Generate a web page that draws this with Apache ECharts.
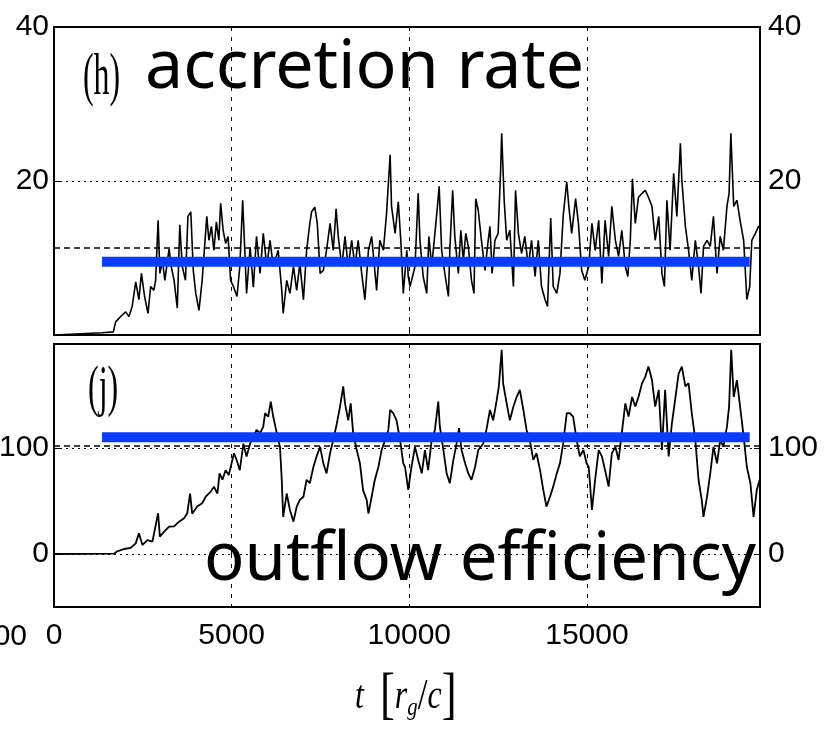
<!DOCTYPE html>
<html><head><meta charset="utf-8">
<script src="https://cdn.jsdelivr.net/npm/echarts@6/dist/echarts.min.js"></script>
<style>html,body{margin:0;padding:0;background:#fff}#c{width:829px;height:733px}</style>
</head><body><div id="c"></div>
<script>
// time [r_g/c], accretion rate
const accretionRate = [[0,0],[1360,0.3],[1670,0.4],[1735,1.7],[1875,2.4],[2017,3.0],[2110,2.4],[2200,3.7],[2300,6.9],[2390,4.6],[2460,8.0],[2550,5.0],[2645,2.8],[2720,6.3],[2810,5.8],[2860,7.1],[2930,14.9],[2980,8.0],[3050,9.7],[3120,7.1],[3240,11.2],[3300,8.9],[3380,7.1],[3470,3.5],[3540,14.3],[3610,8.9],[3700,7.1],[3770,15.4],[3850,16.0],[3920,8.4],[3990,5.4],[4080,3.2],[4170,7.1],[4300,15.4],[4360,12.3],[4430,14.1],[4500,11.0],[4570,14.7],[4640,12.3],[4690,17.1],[4760,13.6],[4830,11.9],[4900,12.8],[4970,7.1],[5050,6.3],[5150,5.0],[5230,8.9],[5310,17.5],[5420,5.4],[5520,11.4],[5610,6.2],[5700,12.8],[5800,8.0],[5890,13.2],[5990,8.9],[6080,12.3],[6170,8.9],[6310,11.0],[6410,5.8],[6450,2.8],[6550,7.1],[6640,5.4],[6740,8.9],[6830,5.8],[6920,9.3],[7020,4.6],[7110,11.0],[7200,14.5],[7250,16.0],[7340,16.6],[7410,14.5],[7490,8.0],[7580,8.4],[7670,11.0],[7770,14.5],[7860,11.0],[7940,16.4],[8000,12.8],[8100,8.9],[8190,12.8],[8280,8.9],[8380,12.3],[8470,8.9],[8560,12.3],[8660,8.0],[8750,4.6],[8850,11.0],[8940,12.8],[9080,5.8],[9170,12.3],[9270,11.0],[9360,15.8],[9460,23.4],[9500,16.7],[9600,13.2],[9690,17.3],[9760,12.3],[9830,5.4],[9930,11.0],[9970,7.6],[10020,6.3],[10160,8.9],[10250,18.4],[10300,12.3],[10390,7.6],[10490,5.4],[10550,12.8],[10630,8.9],[10720,13.2],[10790,16.6],[10840,19.3],[10910,11.0],[11000,8.0],[11100,5.0],[11140,11.0],[11220,18.8],[11280,12.8],[11380,8.0],[11450,13.6],[11520,9.7],[11590,13.2],[11660,11.5],[11750,7.1],[11820,5.4],[11870,17.7],[11940,16.2],[12030,12.3],[12130,8.4],[12220,12.3],[12270,14.1],[12330,8.0],[12410,12.3],[12500,13.2],[12570,21.4],[12600,26.2],[12670,17.5],[12740,12.3],[12830,13.6],[12930,6.3],[12990,18.8],[13070,13.2],[13160,10.6],[13250,12.8],[13350,8.9],[13440,12.3],[13540,7.6],[13630,12.3],[13720,6.3],[13820,4.6],[13890,3.7],[13980,15.2],[14050,6.3],[14150,5.4],[14240,8.0],[14330,15.4],[14430,19.9],[14490,16.7],[14570,13.2],[14680,17.7],[14760,14.5],[14850,8.4],[14940,7.1],[15050,8.9],[15140,14.5],[15230,11.0],[15330,14.9],[15420,6.7],[15510,14.9],[15610,10.2],[15700,16.7],[15800,12.3],[15890,10.2],[15980,13.6],[16080,8.9],[16150,7.6],[16220,12.3],[16280,20.3],[16360,14.5],[16450,17.9],[16550,18.4],[16640,18.8],[16730,17.9],[16830,16.7],[16920,12.3],[17020,15.4],[17110,8.0],[17180,6.3],[17250,17.5],[17340,11.0],[17440,21.0],[17530,15.4],[17630,24.9],[17670,20.1],[17770,14.1],[17860,11.0],[17950,7.1],[18050,12.3],[18140,8.9],[18210,5.4],[18280,11.5],[18380,12.3],[18470,11.5],[18560,15.4],[18660,8.0],[18750,12.8],[18840,11.0],[18940,16.7],[19000,18.4],[19050,26.2],[19130,16.7],[19220,17.5],[19310,14.9],[19410,12.3],[19500,4.6],[19580,6.3],[19640,12.3],[19740,13.2],[19830,14.1],[19860,14.0]];
// time [r_g/c], outflow efficiency
const outflowEfficiency = [[0,0],[1690,0.3],[1780,2.5],[1970,4.7],[2160,5.7],[2300,10],[2390,19.5],[2490,8.5],[2630,13],[2770,11.7],[2930,38.4],[2980,16.4],[3100,21],[3240,25.8],[3380,26],[3520,30.5],[3660,33.6],[3750,38.4],[3830,57],[3890,38],[4030,44.7],[4170,47.8],[4270,54],[4410,58.8],[4500,63.5],[4600,57],[4660,76],[4740,70],[4830,79],[4920,74.5],[5020,88.7],[5065,95],[5140,88.7],[5230,79],[5330,104],[5420,92],[5520,104],[5610,110],[5700,117],[5800,114],[5890,120],[5940,132.7],[6030,129.6],[6100,143.7],[6170,129.6],[6270,114],[6360,101],[6410,70],[6450,35],[6550,57],[6640,41.5],[6740,30.5],[6830,44.7],[6920,51],[7020,54],[7110,70],[7200,66.7],[7300,82],[7390,92],[7490,101],[7580,85.5],[7670,76],[7770,95],[7860,107.5],[7960,123],[8050,139],[8140,158],[8190,142],[8280,126],[8350,142],[8420,114],[8520,98],[8610,85.5],[8700,60],[8800,51],[8850,38],[8940,54],[9030,70],[9130,82],[9220,98],[9320,107.5],[9410,117],[9460,135.8],[9550,132.7],[9640,126],[9740,107.5],[9830,85.5],[9880,82],[9970,60.4],[10060,82],[10160,101],[10250,88.7],[10350,76],[10440,98],[10530,79],[10630,107.5],[10720,117],[10815,143.7],[10860,120],[10960,98],[11050,76],[11140,66.7],[11240,88.7],[11330,104],[11400,118.6],[11470,98],[11570,85.5],[11660,76],[11750,70],[11850,82],[11940,98],[12080,104],[12170,117],[12270,135.8],[12360,126],[12460,145],[12520,158],[12600,192.5],[12640,161],[12740,142],[12830,126],[12930,139],[13020,148],[13110,154.7],[13210,135.8],[13300,117],[13390,107.5],[13490,88.7],[13580,95],[13680,79],[13770,60.4],[13860,44.7],[13960,54],[14050,63.5],[14150,76],[14240,85.5],[14330,104],[14430,132.7],[14520,132.7],[14610,129.6],[14710,107.5],[14800,92],[14900,98],[14990,85.5],[15050,82],[15140,41.5],[15230,70],[15330,98],[15420,92],[15510,79],[15610,63.5],[15700,95],[15800,101],[15890,88.7],[15980,114],[16080,142],[16170,129.6],[16270,148],[16360,139],[16450,148],[16550,161],[16640,167],[16730,176.7],[16830,164],[16920,139],[17020,154.7],[17110,98],[17200,154.7],[17300,92],[17390,123],[17480,145],[17580,170],[17670,176.7],[17770,158],[17860,161],[17950,132.7],[18050,107.5],[18140,70],[18230,51],[18280,35],[18380,54],[18470,76],[18560,101],[18660,85.5],[18750,107.5],[18840,101],[18940,120],[19000,139],[19060,192.5],[19130,148],[19220,164],[19310,139],[19410,110.7],[19500,82],[19600,66.7],[19690,35],[19780,60.4],[19860,70]];

const accretionMean = 11.3;
const outflowMean = 102;
const blueSpan = [1350, 19580];
const accretionBlue = 9.5;
const outflowBlue = 110;
const xTicks = [0, 5000, 10000, 15000];
const accretionTicks = [20, 40];
const outflowTicks = [0, 100];

const tickFont = "'Liberation Sans',Arial,sans-serif";
const tickSize = 30;
const serif = "'Liberation Serif','DejaVu Serif',serif";
const chart = echarts.init(document.getElementById('c'), null, {renderer: 'canvas'});

function xAx(grid, showLabels) {
  return {
    gridIndex: grid, type: 'value', min: 0, max: 19870, interval: 5000,
    axisLine: {show: false},
    axisTick: {show: true, inside: true, length: 6, lineStyle: {color: '#000', width: 1}},
    axisLabel: {show: showLabels, color: '#000', fontSize: tickSize, fontFamily: tickFont, margin: 14,
      showMaxLabel: false,
      formatter: v => xTicks.includes(v) ? String(v) : ''},
    splitLine: {show: true, lineStyle: {color: '#000', width: 1, type: [4, 6]}}
  };
}
function yTop(pos, grid) {
  return {
    gridIndex: grid, type: 'value', position: pos, min: 0, max: 40, interval: 20,
    axisLine: {show: false},
    axisTick: {show: true, inside: true, length: 6, lineStyle: {color: '#000'}},
    axisLabel: {color: '#000', fontSize: tickSize, fontFamily: tickFont, margin: pos === 'left' ? 5 : 8,
      showMinLabel: false,
      formatter: v => accretionTicks.includes(v) ? String(v) : ''},
    splitLine: {show: pos === 'left', lineStyle: {color: '#000', width: 1, type: [2, 4]}}
  };
}
function yBot(pos, grid) {
  return {
    gridIndex: grid, type: 'value', position: pos, min: -50, max: 198,
    axisLine: {show: false},
    axisTick: {show: true, inside: true, length: 6, lineStyle: {color: '#000'}, customValues: outflowTicks},
    axisLabel: {color: '#000', fontSize: tickSize, fontFamily: tickFont, margin: pos === 'left' ? 5 : 8,
      customValues: outflowTicks,
      formatter: v => outflowTicks.includes(v) ? String(v) : ''},
    splitLine: {show: false}
  };
}

const option = {
  animation: false,
  backgroundColor: '#fff',
  grid: [
    {left: 54, right: 69, top: 27, height: 308, show: true, borderColor: '#000', borderWidth: 2, backgroundColor: 'transparent', containLabel: false, outerBoundsMode: 'none'},
    {left: 54, right: 69, top: 344, height: 263, show: true, borderColor: '#000', borderWidth: 2, backgroundColor: 'transparent', containLabel: false, outerBoundsMode: 'none'}
  ],
  xAxis: [xAx(0, false), xAx(1, true)],
  yAxis: [yTop('left', 0), yTop('right', 0), yBot('left', 1), yBot('right', 1)],
  series: [
    {type: 'line', xAxisIndex: 0, yAxisIndex: 0, data: accretionRate, showSymbol: false, symbol: 'none',
      lineStyle: {color: '#000', width: 1.6}, z: 3,
      markLine: {silent: true, symbol: 'none', label: {show: false},
        lineStyle: {color: '#000', width: 1.5, type: [6, 4]},
        data: [{yAxis: accretionMean}]}},
    {type: 'line', xAxisIndex: 1, yAxisIndex: 2, data: outflowEfficiency, showSymbol: false, symbol: 'none',
      lineStyle: {color: '#000', width: 1.8}, z: 3,
      markLine: {silent: true, symbol: 'none', label: {show: false},
        data: [
          {yAxis: 0, lineStyle: {color: '#000', width: 1, type: [2, 4]}},
          {yAxis: 100, lineStyle: {color: '#000', width: 1, type: [2, 4]}},
          {yAxis: outflowMean, lineStyle: {color: '#000', width: 1.5, type: [6, 4]}}
        ]}},
    {type: 'line', xAxisIndex: 0, yAxisIndex: 0, data: [[blueSpan[0], accretionBlue], [blueSpan[1], accretionBlue]],
      symbol: 'none', lineStyle: {color: '#0a3cff', width: 10, cap: 'butt'}, z: 6},
    {type: 'line', xAxisIndex: 1, yAxisIndex: 2, data: [[blueSpan[0], outflowBlue], [blueSpan[1], outflowBlue]],
      symbol: 'none', lineStyle: {color: '#0a3cff', width: 10, cap: 'butt'}, z: 6}
  ],
  graphic: [
    {type: 'text', x: 83, y: 48, scaleX: 0.53, z: 10,
      style: {text: '(h)', fontSize: 60, fontFamily: serif, fill: '#000', verticalAlign: 'top'}},
    {type: 'text', x: 145, y: 69, z: 10,
      style: {text: 'accretion rate', fontSize: 68, fontFamily: "'Noto Sans','DejaVu Sans',sans-serif", fill: '#000', verticalAlign: 'middle'}},
    {type: 'text', x: 88, y: 362, scaleX: 0.57, z: 10,
      style: {text: '(j)', fontSize: 56, fontFamily: serif, fill: '#000', verticalAlign: 'top'}},
    {type: 'text', x: 204, y: 561, z: 10,
      style: {text: 'outflow efficiency', fontSize: 67, fontFamily: "'Noto Sans','DejaVu Sans',sans-serif", fill: '#000', verticalAlign: 'middle'}},
    {type: 'text', x: 27, y: 637, z: 10,
      style: {text: '00', fontSize: tickSize, fontFamily: tickFont, fill: '#000', align: 'right', verticalAlign: 'middle'}},
    {type: 'text', x: 355, y: 697, scaleX: 0.8, z: 10,
      style: {text: '{i|t}  {b|[}{i|r}{s|g}{n|/}{i|c}{b|]}', fontSize: 40, fontFamily: serif, fill: '#000', verticalAlign: 'middle',
        rich: {i: {fontStyle: 'italic', fontSize: 40, fontFamily: serif},
               n: {fontSize: 44, fontFamily: serif},
               b: {fontSize: 56, fontFamily: serif},
               s: {fontStyle: 'italic', fontSize: 26, fontFamily: serif, padding: [22, 0, 0, 0]}}}}
  ]
};
chart.setOption(option);
</script>
</body></html>
